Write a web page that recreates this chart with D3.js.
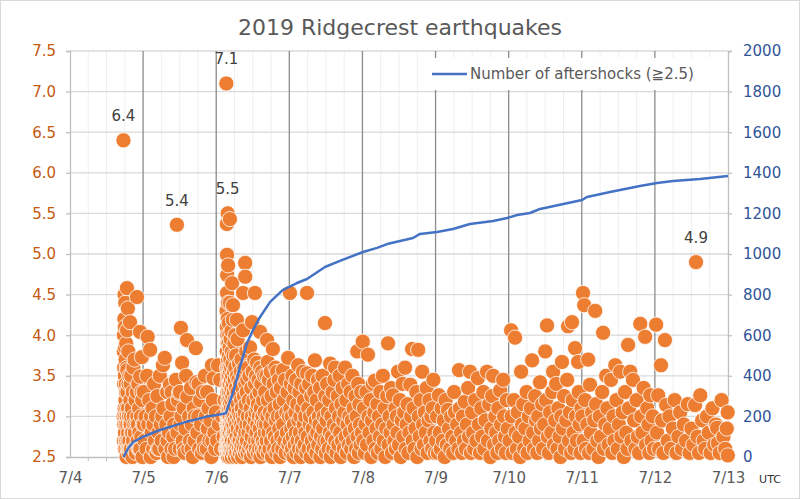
<!DOCTYPE html>
<html><head><meta charset="utf-8">
<script src="https://cdn.jsdelivr.net/npm/d3@7"></script>
<style>
body{margin:0;background:#fff}
svg{display:block}
text{font-family:"DejaVu Sans",Verdana,sans-serif}
</style>
</head><body>
<svg id="chart" width="800" height="499"></svg>
<script>
// ---------- data ----------
const chartTitle = "2019 Ridgecrest earthquakes";
const legendLabel = "Number of aftershocks (\u22672.5)";
const dayLabels = ["7/4","7/5","7/6","7/7","7/8","7/9","7/10","7/11","7/12","7/13"];
const magTicks = [2.5,3.0,3.5,4.0,4.5,5.0,5.5,6.0,6.5,7.0,7.5];
const countTicks = [0,200,400,600,800,1000,1200,1400,1600,1800,2000];

// earthquakes per UTC day, flat pairs: hour of day, magnitude
const jul04 = [17.55,6.4, 17.6,3.0, 17.65,3.8, 17.7,4.0, 17.72,2.7, 17.75,3.4, 17.8,3.6, 17.82,2.9, 17.85,4.2, 17.9,4.5, 17.92,3.1, 17.95,2.6,
 18.0,4.1, 18.02,3.5, 18.05,2.8, 18.1,3.85, 18.12,3.0, 18.15,4.4, 18.2,3.2, 18.22,2.6, 18.25,3.7, 18.3,2.9, 18.32,3.4, 18.35,2.7, 18.4,3.3,
 18.45,3.9, 18.5,2.7, 18.52,3.1, 18.55,2.5, 18.6,3.0, 18.65,3.6, 18.7,4.58, 18.75,4.06, 18.8,3.57, 18.82,2.9, 18.85,3.3, 18.9,2.6, 19.0,4.33,
 19.02,2.7, 19.05,3.1, 19.1,2.8, 19.15,3.8, 19.2,3.4, 19.25,3.0, 19.3,2.55, 19.35,2.6, 19.4,3.0, 19.45,3.5, 19.5,2.7, 19.6,2.9, 19.7,4.16,
 19.75,2.6, 19.8,3.2, 19.9,2.9, 19.92,3.4, 20.0,2.6, 20.05,3.0, 20.1,3.5, 20.2,2.8, 20.3,3.1, 20.4,2.8, 20.5,2.5, 20.6,3.3, 20.7,2.7,
 20.8,3.6, 20.9,3.0, 21.0,2.6, 21.1,2.9, 21.2,3.7, 21.3,2.8, 21.4,2.6, 21.5,3.2, 21.6,2.55, 21.8,2.9, 21.9,3.3, 22.0,4.47, 22.1,3.0,
 22.2,2.7, 22.3,2.9, 22.4,3.4, 22.5,2.6, 22.7,3.1, 22.8,2.8, 22.9,2.6, 23.0,4.04, 23.05,3.49, 23.1,2.6, 23.3,3.0, 23.4,2.75, 23.5,3.3,
 23.6,3.73, 23.7,3.2, 23.8,2.5, 23.9,2.9];

const jul05 = [0.2,3.3, 0.3,2.9, 0.5,2.7, 0.8,3.0, 1.1,2.6, 1.3,3.5, 1.5,3.98, 1.7,2.9, 2.0,3.2, 2.3,3.82, 2.5,2.5, 2.6,3.0, 2.8,2.8,
 3.1,3.1, 3.3,2.6, 3.4,2.9, 3.6,3.4, 3.9,2.7, 4.2,3.0, 4.4,2.55, 4.7,3.25, 4.9,2.6, 5.0,2.8, 5.3,2.6, 5.5,3.5, 5.8,2.9, 6.1,2.7, 6.3,3.0,
 6.5,3.63, 6.7,3.1, 7.1,3.72, 7.3,2.6, 7.6,2.9, 7.9,3.3, 8.0,2.7, 8.2,2.5, 8.5,2.8, 8.8,3.39, 9.0,3.0, 9.3,2.6, 9.4,3.3, 9.6,3.15,
 9.9,2.75, 10.0,2.5, 10.2,2.9, 10.5,2.6, 10.8,3.45, 11.1,5.36, 11.3,2.8, 11.5,3.2, 11.8,3.29, 12.0,2.6, 12.1,3.3, 12.2,2.9, 12.4,4.09,
 12.6,3.0, 12.8,3.66, 13.0,2.7, 13.3,3.1, 13.4,2.6, 13.6,2.55, 13.9,2.85, 14.1,3.5, 14.4,3.94, 14.5,3.24, 14.8,2.6, 15.1,3.0, 15.4,2.7,
 15.7,3.35, 15.9,2.6, 16.0,2.9, 16.3,2.5, 16.6,3.1, 16.9,2.7, 17.0,3.0, 17.3,3.84, 17.5,3.42, 17.8,2.8, 18.1,3.0, 18.2,3.4, 18.4,2.6,
 18.7,3.2, 19.0,2.9, 19.3,2.55, 19.6,3.3, 19.9,2.7, 20.0,2.6, 20.3,3.5, 20.6,3.0, 20.9,2.6, 21.0,3.3, 21.2,2.85, 21.5,3.1, 21.8,2.7,
 22.1,2.95, 22.4,2.5, 22.6,3.63, 22.7,2.7, 22.9,3.2, 23.1,3.47, 23.4,2.8, 23.7,2.6, 23.9,3.05];

const jul06 = [0.3,2.7, 0.6,3.63, 0.9,2.9, 1.3,3.45, 1.6,2.6, 2.0,3.0, 2.4,2.75, 2.8,3.2, 3.1,2.6,
 3.32,7.1, 3.4,4.3, 3.42,2.6, 3.44,3.8, 3.46,2.9, 3.48,4.1, 3.5,5.37, 3.52,2.7, 3.54,3.6, 3.55,4.99, 3.56,4.52, 3.58,3.0, 3.6,4.74,
 3.61,2.55, 3.62,3.4, 3.64,4.0, 3.66,2.8, 3.68,3.3, 3.7,3.9, 3.72,2.6, 3.74,3.1, 3.76,4.2, 3.78,5.5, 3.79,2.9, 3.8,3.5, 3.82,2.7,
 3.84,3.7, 3.86,3.0, 3.88,2.5, 3.9,4.86, 3.91,4.4, 3.92,3.2, 3.94,2.8, 3.96,3.6, 3.98,2.6, 4.02,3.9, 4.04,3.0, 4.06,2.7, 4.08,3.4,
 4.1,4.15, 4.12,2.9, 4.14,3.3, 4.16,2.55, 4.18,3.75, 4.2,3.1, 4.22,2.8, 4.24,3.5, 4.26,2.6, 4.28,4.0, 4.3,3.2, 4.32,2.7, 4.34,3.6,
 4.36,3.0, 4.38,2.5, 4.4,3.85, 4.42,2.9, 4.44,3.4, 4.46,2.65, 4.48,3.15, 4.5,5.43, 4.51,4.4, 4.52,2.8, 4.54,3.55, 4.56,3.0, 4.58,2.6,
 4.62,3.7, 4.65,2.9, 4.68,3.3, 4.71,2.55, 4.74,3.95, 4.77,3.1, 4.8,2.7, 4.83,3.45, 4.86,2.85, 4.89,3.6, 4.92,2.6, 4.95,3.2, 4.98,4.05,
 5.01,2.75, 5.04,3.35, 5.07,2.95, 5.1,2.5, 5.13,3.8, 5.16,3.05, 5.19,2.7, 5.2,4.64, 5.22,3.5, 5.25,2.9, 5.28,3.25, 5.32,2.6, 5.36,3.65,
 5.4,3.0, 5.44,2.8, 5.48,4.19, 5.5,4.37, 5.52,3.4, 5.56,2.55, 5.6,3.1, 5.64,2.9, 5.68,3.75, 5.72,2.65, 5.76,3.3, 5.8,2.8, 5.84,3.55,
 5.88,3.0, 5.92,2.6, 5.96,3.9, 6.0,3.2, 6.04,2.7, 6.08,3.45, 6.12,2.95, 6.16,2.5, 6.2,4.0,
 6.25,3.6, 6.3,2.8, 6.35,3.1, 6.4,2.6, 6.45,3.35, 6.5,3.75, 6.55,2.9, 6.6,2.55, 6.65,3.2, 6.7,2.75, 6.8,4.19, 6.82,3.5, 6.85,3.0,
 6.9,2.65, 6.95,3.3, 7.0,3.95, 7.05,2.85, 7.1,3.15, 7.2,2.5, 7.25,3.45, 7.3,2.7, 7.35,3.05, 7.4,2.6, 7.5,3.65, 7.55,2.95, 7.6,3.25,
 7.7,2.7, 7.75,2.55, 7.8,3.4, 7.9,3.0, 7.95,2.8, 8.0,3.55, 8.1,2.6, 8.15,3.2, 8.2,2.9, 8.3,3.7, 8.35,2.65, 8.4,3.1, 8.5,2.5, 8.55,3.35,
 8.6,2.85, 8.7,3.0, 8.8,4.52, 8.82,4.06, 8.85,2.7, 8.9,3.5, 9.0,2.6, 9.1,3.25, 9.15,2.95, 9.2,3.6, 9.3,2.75, 9.4,3.05, 9.45,2.55,
 9.5,4.89, 9.52,4.72, 9.55,3.4, 9.6,2.8, 9.7,3.15, 9.8,2.6, 9.85,3.8, 9.9,2.9, 10.0,3.3,
 10.1,2.7, 10.2,3.45, 10.3,2.55, 10.4,3.0, 10.5,3.6, 10.6,2.8, 10.7,3.2, 10.8,2.6, 10.9,3.5, 11.0,2.9, 11.1,3.85, 11.2,2.65, 11.3,3.1,
 11.4,2.5, 11.5,3.35, 11.6,2.75, 11.7,3.0, 11.75,4.16, 11.9,2.6, 12.0,3.55, 12.1,2.85, 12.2,3.2, 12.35,2.55, 12.5,3.7, 12.6,2.95,
 12.7,4.52, 12.75,3.4, 12.8,2.7, 12.9,3.05, 13.0,2.6, 13.1,3.5, 13.2,2.8, 13.3,3.25, 13.4,3.66, 13.45,3.1, 13.5,2.9, 13.6,2.55,
 13.7,3.15, 13.8,2.7, 13.9,3.45, 14.0,3.0, 14.1,2.6, 14.2,3.3, 14.3,2.85, 14.4,4.04, 14.45,3.6, 14.5,2.5, 14.6,3.1, 14.7,2.75, 14.8,3.4,
 14.9,2.95, 15.0,2.6, 15.1,3.55, 15.2,3.0, 15.3,2.7, 15.4,3.2, 15.5,2.55, 15.6,2.9, 15.7,3.5, 15.8,2.65, 15.9,3.05, 16.0,2.8,
 16.1,3.3, 16.2,2.6, 16.35,2.9, 16.5,3.5, 16.6,2.7, 16.7,3.94, 16.8,3.0, 16.9,3.67, 16.95,2.55, 17.0,3.2, 17.15,2.8, 17.3,3.45, 17.45,2.6,
 17.6,3.05, 17.75,2.9, 17.9,3.55, 18.0,2.7, 18.15,3.25, 18.3,2.5, 18.45,3.0, 18.6,3.83, 18.7,2.8, 18.85,3.4, 19.0,2.6, 19.15,3.1,
 19.3,2.75, 19.45,3.6, 19.6,2.95, 19.75,2.55, 19.9,3.3, 20.0,3.55, 20.1,2.7, 20.25,3.0, 20.4,2.6, 20.55,3.45, 20.7,2.85, 20.85,3.15,
 21.0,2.5, 21.2,3.35, 21.35,2.75, 21.5,3.0, 21.7,2.6, 21.9,3.57, 22.0,2.9, 22.2,3.2, 22.4,2.7, 22.6,3.45, 22.8,2.55, 23.0,3.05,
 23.2,2.8, 23.4,3.3, 23.6,3.72, 23.7,2.65, 23.9,3.0];

const jul07 = [0.1,2.7, 0.2,4.52, 0.3,3.1, 0.4,2.55, 0.5,3.4, 0.6,2.85, 0.8,3.0, 0.9,2.6, 1.0,3.5, 1.1,2.75, 1.3,3.2, 1.4,2.5, 1.5,2.9,
 1.7,3.35, 1.8,2.65, 2.0,3.05, 2.1,2.8, 2.3,3.45, 2.4,2.55, 2.6,3.15, 2.7,2.7, 2.9,3.63, 3.0,2.95, 3.2,2.6, 3.3,3.3, 3.5,2.8, 3.6,3.0,
 3.8,2.5, 3.9,3.4, 4.1,2.7, 4.2,3.1, 4.4,2.6, 4.5,3.55, 4.7,2.9, 4.8,3.2, 5.0,2.65, 5.2,3.0, 5.3,2.8, 5.5,3.35, 5.6,2.55, 5.8,4.52,
 5.85,3.53, 6.0,2.75, 6.2,3.1, 6.3,2.6, 6.5,3.4, 6.7,2.9, 6.8,3.0, 7.0,2.5, 7.2,3.25, 7.4,2.7, 7.5,3.5, 7.7,2.85, 7.9,3.05, 8.0,2.6,
 8.2,3.3, 8.4,3.69, 8.5,2.75, 8.7,2.95, 8.9,2.55, 9.0,3.2, 9.2,2.8, 9.4,3.45, 9.5,2.65, 9.7,3.0, 9.9,2.9, 10.1,3.35, 10.2,2.5,
 10.4,2.75, 10.6,3.1, 10.8,2.6, 10.9,3.5, 11.1,2.85, 11.3,3.0, 11.5,2.7, 11.7,4.15, 11.8,3.25, 12.0,2.55, 12.2,2.95, 12.4,3.4, 12.5,2.7,
 12.7,3.05, 12.9,2.6, 13.1,3.2, 13.3,2.8, 13.4,3.65, 13.6,2.5, 13.8,3.0, 14.0,2.75, 14.2,3.3, 14.4,2.6, 14.6,2.9, 14.8,3.45, 15.0,3.6,
 15.1,2.7, 15.3,3.1, 15.5,2.55, 15.7,2.85, 15.9,3.25, 16.1,2.65, 16.3,3.0, 16.5,3.5, 16.7,2.8, 16.9,2.5, 17.1,3.15, 17.3,2.7, 17.5,3.35,
 17.7,2.95, 17.9,2.6, 18.1,3.05, 18.3,3.6, 18.5,2.75, 18.7,3.2, 18.9,2.55, 19.1,2.9, 19.3,3.4, 19.5,2.65, 19.7,3.0, 19.9,2.8, 20.1,3.3,
 20.3,2.6, 20.5,2.95, 20.7,3.5, 20.9,2.7, 21.1,3.1, 21.3,2.5, 21.5,2.85, 21.7,3.25, 21.9,2.6, 22.1,3.0, 22.3,3.8, 22.4,2.75, 22.6,3.4,
 22.8,2.55, 23.0,3.15, 23.2,2.9, 23.4,2.65, 23.6,3.3, 23.8,2.8];

const jul08 = [0.1,3.92, 0.3,2.7, 0.5,3.1, 0.8,2.55, 1.0,2.9, 1.3,3.3, 1.5,2.65, 1.8,3.76, 2.0,3.0, 2.3,2.8, 2.6,3.2, 2.9,2.5, 3.1,2.95,
 3.4,3.4, 3.6,2.7, 3.9,3.05, 4.1,3.44, 4.3,2.6, 4.6,2.85, 4.9,3.15, 5.1,2.55, 5.4,3.0, 5.7,2.75, 5.9,3.3, 6.2,2.6, 6.5,2.9, 6.7,3.5,
 7.0,2.7, 7.3,3.1, 7.5,2.5, 7.8,2.85, 8.1,3.25, 8.4,3.9, 8.6,2.65, 8.9,3.0, 9.2,2.8, 9.4,3.35, 9.7,2.55, 10.0,3.26, 10.2,2.9, 10.5,2.7,
 10.8,3.1, 11.0,2.6, 11.3,3.0, 11.5,2.8, 11.7,3.55, 12.0,2.65, 12.3,3.2, 12.6,2.5, 12.9,2.95, 13.2,3.4, 13.4,2.75, 13.7,3.05, 14.0,3.6,
 14.2,2.6, 14.5,2.9, 14.8,3.15, 15.1,2.55, 15.4,2.8, 15.7,3.39, 16.0,3.0, 16.3,3.83, 16.5,2.7, 16.8,3.1, 17.1,2.6, 17.4,2.85, 17.7,3.3,
 18.0,2.5, 18.3,3.82, 18.5,3.0, 18.8,2.75, 19.1,3.2, 19.4,2.6, 19.6,3.55, 19.9,2.9, 20.2,2.65, 20.5,3.05, 20.8,2.8, 21.1,3.35, 21.4,2.55,
 21.7,2.95, 22.0,3.2, 22.3,2.7, 22.6,3.0, 22.9,2.6, 23.1,3.1, 23.3,3.45, 23.6,2.8, 23.8,2.55];

const jul09 = [0.2,2.7, 0.5,3.0, 0.8,2.55, 1.1,3.26, 1.4,2.8, 1.7,2.6, 2.0,3.1, 2.4,2.7, 2.7,2.95, 3.0,2.5, 3.3,3.2, 3.7,2.65, 4.1,3.08,
 4.4,2.85, 4.8,2.6, 5.1,3.0, 5.5,2.75, 5.8,2.55, 6.1,3.3, 6.4,3.05, 6.8,2.7, 7.1,2.9, 7.5,2.6, 7.7,3.57, 8.0,3.1, 8.4,2.8, 8.7,2.55,
 9.0,3.0, 9.3,2.7, 9.6,3.18, 10.0,2.6, 10.3,2.9, 10.7,3.35, 11.0,2.75, 11.3,3.55, 11.6,2.55, 12.0,3.05, 12.3,2.8, 12.7,2.6, 13.0,3.2,
 13.4,2.7, 13.9,3.47, 14.2,2.9, 14.6,2.55, 15.0,3.1, 15.3,2.75, 15.7,3.3, 16.0,2.6, 16.4,2.95, 16.9,3.55, 17.2,2.7, 17.6,3.15, 18.0,2.5,
 18.3,2.85, 18.6,3.25, 18.9,3.5, 19.2,2.65, 19.6,3.0, 19.9,2.8, 20.3,2.55, 20.6,3.1, 20.9,2.7, 21.2,3.32, 21.5,2.9, 21.8,2.6, 22.2,3.45,
 22.5,3.0, 22.8,2.75, 23.1,2.55, 23.4,3.2, 23.7,2.85];

const jul10 = [0.3,2.7, 0.8,4.06, 1.0,3.0, 1.3,2.55, 1.7,3.2, 2.1,3.97, 2.3,2.8, 2.7,2.6, 3.0,3.05, 3.4,2.75, 3.8,2.5, 4.1,3.55, 4.4,2.9,
 4.8,3.15, 5.1,2.6, 5.5,2.85, 5.9,3.3, 6.2,2.55, 6.6,3.0, 6.9,2.7, 7.3,3.1, 7.7,3.69, 8.0,2.8, 8.3,2.6, 8.7,3.25, 9.0,2.95, 9.4,2.55,
 9.7,3.0, 10.0,2.7, 10.3,3.42, 10.6,2.85, 11.0,3.15, 11.3,2.6, 11.7,2.9, 12.0,3.8, 12.3,3.2, 12.6,4.12, 12.9,2.75, 13.2,2.55, 13.6,3.05,
 14.0,2.8, 14.3,3.3, 14.6,3.55, 14.9,2.65, 15.3,2.95, 15.6,3.4, 16.0,2.6, 16.3,3.1, 16.7,2.75, 17.0,2.5, 17.3,3.0, 17.5,3.67, 17.8,2.85,
 18.2,3.25, 18.5,2.6, 18.9,2.95, 19.2,3.45, 19.5,4.11, 19.8,2.7, 20.1,3.05, 20.5,2.55, 20.8,4.16, 21.0,3.2, 21.3,2.8, 21.6,2.6, 21.8,3.84,
 22.1,3.0, 22.4,2.7, 22.8,3.67, 23.0,3.3, 23.3,2.9, 23.6,2.55, 23.9,3.1];

const jul11 = [0.2,3.0, 0.4,4.52, 0.6,2.7, 0.8,4.37, 1.1,3.2, 1.4,2.6, 1.8,2.9, 2.1,3.7, 2.4,2.55, 2.7,3.39, 3.0,2.8, 3.4,3.05, 3.8,2.6,
 4.1,2.95, 4.4,4.3, 4.7,3.15, 5.1,2.7, 5.5,2.5, 5.9,3.0, 6.3,2.75, 6.7,3.3, 7.0,4.03, 7.3,2.6, 7.7,2.9, 8.0,3.5, 8.4,3.1, 8.8,2.65,
 9.2,2.85, 9.6,3.45, 10.0,2.55, 10.4,3.0, 10.7,2.7, 11.0,3.63, 11.4,3.2, 11.8,2.6, 12.2,2.9, 12.6,3.55, 13.0,2.75, 13.4,3.05, 13.8,2.5,
 14.2,3.3, 14.6,2.8, 15.0,2.6, 15.2,3.88, 15.5,3.1, 15.9,3.55, 16.3,2.7, 16.8,3.45, 17.2,2.95, 17.6,2.6, 18.0,3.2, 18.4,2.75, 18.8,2.55,
 19.2,4.14, 19.5,3.0, 19.9,2.8, 20.3,3.35, 20.8,3.98, 21.1,2.65, 21.5,3.1, 21.9,2.9, 22.2,2.55, 22.5,3.26, 22.9,2.7, 23.3,3.0, 23.7,2.6];

const jul12 = [0.4,4.13, 0.7,2.8, 1.1,3.26, 1.4,2.6, 2.0,3.63, 2.4,2.95, 2.8,2.55, 3.3,3.94, 3.7,3.14, 4.2,2.7, 4.8,3.0, 5.3,2.6,
 5.9,2.85, 6.5,3.2, 7.1,2.55, 7.7,2.75, 8.3,3.05, 8.9,2.6, 9.5,2.9, 10.2,2.7, 10.8,3.15, 11.4,2.55, 12.0,2.85, 12.6,2.65, 13.2,3.14,
 13.5,4.9, 14.0,2.75, 14.5,2.55, 14.9,3.26, 15.5,2.95, 16.0,2.7, 16.5,2.6, 17.1,3.0, 17.7,2.8, 18.3,2.55, 18.9,3.1, 19.5,2.65, 20.0,2.9,
 20.4,2.86, 20.7,2.67, 21.3,2.55, 21.9,3.2, 22.5,2.75, 23.1,2.6, 23.6,2.85, 23.9,3.05, 23.95,2.52];

// cumulative number of aftershocks (>=2.5): hours since 7/4 00:00 UTC, count
const cumulative = [17.6,0, 19.1,43, 20.8,75, 24.1,100, 29.5,133, 35.0,158, 38.3,174, 44.9,199, 48.2,207, 51.2,216,
 51.4,225, 53.8,330, 55.8,443, 58.1,562, 60.1,626, 62.4,690, 65.7,764, 69.9,823, 74.5,857, 77.8,877, 83.7,936,
 88.6,966, 96.2,1010, 100.8,1030, 104.1,1049, 112.6,1079, 114.9,1099, 120.5,1108, 125.7,1123, 131.3,1148,
 138.9,1163, 143.5,1177, 146.8,1192, 151.0,1202, 154.3,1222, 168.1,1266, 169.7,1281, 177.3,1305, 187.1,1335,
 192.7,1350, 198.0,1360, 206.8,1369, 216.0,1384];

// labelled events: day of July, hour, magnitude
const labelled = [[4,17.55,6.4],[5,11.1,5.36],[6,3.32,7.1],[6,3.78,5.5],[12,13.5,4.9]];

// ---------- build ----------
const dayData = [[4,jul04],[5,jul05],[6,jul06],[7,jul07],[8,jul08],[9,jul09],[10,jul10],[11,jul11],[12,jul12]];
const toDate = (day,h) => new Date(Date.UTC(2019,6,day) + h*3600e3);
let quakes = [];
dayData.forEach(([day,arr]) => { for (let i=0;i<arr.length;i+=2) quakes.push({t:toDate(day,arr[i]), m:arr[i+1]}); });
quakes.sort((a,b)=>a.t-b.t);
const cum = [];
for (let i=0;i<cumulative.length;i+=2) cum.push({t:new Date(Date.UTC(2019,6,4)+cumulative[i]*3600e3), c:cumulative[i+1]});

const svg = d3.select("#chart");
const L=70, R=728, T=51, B=457;
const start = new Date(Date.UTC(2019,6,4)), end = new Date(Date.UTC(2019,6,13));
const x = d3.scaleUtc().domain([start,end]).range([L,R]);
const yM = d3.scaleLinear().domain([2.5,7.5]).range([B,T]);
const yC = d3.scaleLinear().domain([0,2000]).range([B,T]);

svg.append("rect").attr("x",0.5).attr("y",0.5).attr("width",799).attr("height",498)
  .attr("fill","#fff").attr("stroke","#d9d9d9");

// title
svg.append("text").attr("x",400).attr("y",35).attr("text-anchor","middle")
  .attr("font-size",22).attr("fill","#595959").text(chartTitle);

const days = dayLabels.map((s,i)=>new Date(Date.UTC(2019,6,4+i)));

// minor vertical gridlines (6 h)
const minor = d3.utcHour.every(6).range(start,end).filter(d=>d.getUTCHours()!==0);
svg.append("g").selectAll("line").data(minor).join("line")
  .attr("x1",d=>x(d)).attr("x2",d=>x(d)).attr("y1",T).attr("y2",B)
  .attr("stroke","#efefef").attr("stroke-width",1);
// horizontal gridlines
svg.append("g").selectAll("line").data(magTicks.slice(1)).join("line")
  .attr("x1",L).attr("x2",R).attr("y1",d=>yM(d)).attr("y2",d=>yM(d))
  .attr("stroke","#d9d9d9").attr("stroke-width",1.3);
// major vertical gridlines (days)
svg.append("g").selectAll("line").data(days.slice(1,-1)).join("line")
  .attr("x1",d=>x(d)).attr("x2",d=>x(d)).attr("y1",T).attr("y2",B)
  .attr("stroke","#8c8c8c").attr("stroke-width",1.3);

// axes
const gL = svg.append("g").attr("transform",`translate(${L},0)`)
  .call(d3.axisLeft(yM).tickValues(magTicks).tickFormat(d3.format(".1f")).tickSize(4).tickPadding(10));
const gR = svg.append("g").attr("transform",`translate(${R},0)`)
  .call(d3.axisRight(yC).tickValues(countTicks).tickFormat(d3.format("d")).tickSize(4).tickPadding(11));
const gB = svg.append("g").attr("transform",`translate(0,${B})`)
  .call(d3.axisBottom(x).tickValues(days).tickFormat((d,i)=>dayLabels[i]).tickSize(0).tickPadding(15));
[gL,gR,gB].forEach(g=>{
  g.select(".domain").attr("stroke","#bfbfbf").attr("stroke-width",1.3);
  g.selectAll(".tick line").attr("stroke","#bfbfbf").attr("stroke-width",1.3);
  g.selectAll("text").attr("font-family","DejaVu Sans, sans-serif").attr("font-size",15);
});
gL.selectAll("text").attr("fill","#c55a11");
gR.selectAll("text").attr("fill","#2f5597");
gB.selectAll("text").attr("fill","#595959");
// minor bottom ticks
svg.append("g").selectAll("line").data(minor).join("line")
  .attr("x1",d=>x(d)).attr("x2",d=>x(d)).attr("y1",B).attr("y2",B+4)
  .attr("stroke","#bfbfbf").attr("stroke-width",1);
svg.append("text").attr("x",770).attr("y",483).attr("text-anchor","middle")
  .attr("font-size",11).attr("fill","#333").text("UTC");

// legend
svg.append("rect").attr("x",425).attr("y",58).attr("width",295).attr("height",32).attr("fill","#fff");
svg.append("line").attr("x1",432).attr("x2",467).attr("y1",74).attr("y2",74)
  .attr("stroke","#4472c4").attr("stroke-width",2.5);
svg.append("text").attr("x",470).attr("y",74).attr("dy","0.35em").attr("font-size",15)
  .attr("fill","#595959").text(legendLabel);

// points
svg.append("g").selectAll("circle").data(quakes).join("circle")
  .attr("cx",d=>x(d.t)).attr("cy",d=>yM(d.m)).attr("r",7.6)
  .attr("fill","#ed7d31").attr("stroke","#fff").attr("stroke-width",0.8);

// cumulative line
svg.append("path").datum(cum)
  .attr("d",d3.line().x(d=>x(d.t)).y(d=>yC(d.c)))
  .attr("fill","none").attr("stroke","#4472c4").attr("stroke-width",2.5).attr("stroke-linejoin","round");

// labels
svg.append("g").selectAll("text").data(labelled).join("text")
  .attr("x",d=>x(toDate(d[0],d[1]))).attr("y",d=>yM(d[2])-19)
  .attr("text-anchor","middle").attr("font-size",15).attr("fill","#404040")
  .text(d=>d[2].toFixed(1));
</script>
</body></html>
